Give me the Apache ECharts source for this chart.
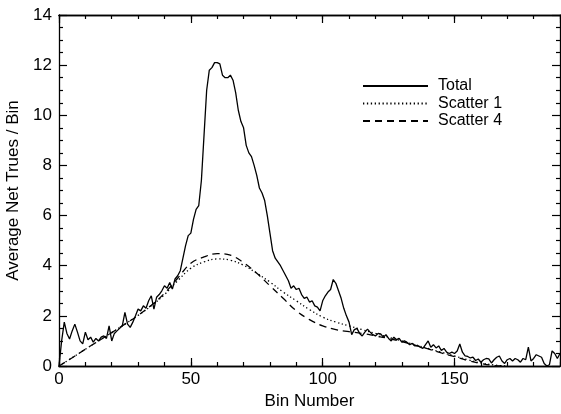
<!DOCTYPE html>
<html>
<head>
<meta charset="utf-8">
<script src="https://cdn.jsdelivr.net/npm/echarts@6/dist/echarts.min.js"></script>
<style>
html,body{margin:0;padding:0;background:#fff;}
#chart{width:561px;height:414px;}
</style>
</head>
<body>
<div id="chart"></div>
<script>
// Total: one value per bin, bins 0..190
const totalValues = [
  0, 1.0, 1.75, 1.3, 1.08, 1.4, 1.67, 1.35, 1.0, 0.88,
  1.35, 1.05, 1.15, 0.95, 1.1, 1.0, 1.15, 1.2, 1.1, 1.6,
  1.0, 1.3, 1.4, 1.5, 1.6, 2.14, 1.67, 1.54, 1.75, 2.0,
  2.27, 2.2, 2.4, 2.3, 2.6, 2.8, 2.27, 2.74, 2.85, 3.0,
  3.2, 3.1, 3.33, 3.07, 3.47, 3.6, 3.8, 4.3, 4.8, 5.2,
  5.3, 5.85, 6.25, 6.4, 7.4, 9.2, 11.0, 11.8, 11.9, 12.1,
  12.1, 12.05, 11.6, 11.5, 11.5, 11.6, 11.4, 10.9, 10.2, 9.75,
  9.5, 8.8, 8.5, 8.35, 8.0, 7.6, 7.1, 6.9, 6.6, 6.0,
  5.3, 4.6, 4.3, 4.15, 4.0, 3.8, 3.6, 3.4, 3.1, 3.2,
  3.05, 3.1, 2.85, 2.7, 2.75, 2.55, 2.6, 2.4, 2.35, 2.2,
  2.6, 2.8, 2.95, 3.05, 3.45, 3.3, 3.0, 2.7, 2.3, 2.0,
  1.75, 1.25, 1.45, 1.5, 1.3, 1.2, 1.35, 1.47, 1.35, 1.25,
  1.2, 1.3, 1.28, 1.15, 1.25, 1.1, 1.0, 1.15, 1.05, 1.1,
  0.95, 1.0, 0.94, 0.85, 0.9, 0.8, 0.81, 0.75, 0.7, 0.85,
  1.0, 0.75, 0.85, 0.72, 0.8, 0.62, 0.7, 0.55, 0.5, 0.55,
  0.5, 0.6, 0.88, 0.55, 0.4, 0.38, 0.32, 0.35, 0.22, 0.28,
  0.15, 0.25, 0.3, 0.28, 0.12, 0.25, 0.35, 0.4, 0.2, 0.1,
  0.25, 0.3, 0.2, 0.3, 0.25, 0.15, 0.3, 0.25, 0.75, 0.2,
  0.3, 0.45, 0.4, 0.35, 0.1, 0.0, 0.05, 0.6, 0.5, 0.3,
  0.5
];
// Scatter curves sampled every 5 bins
const scatterBins = [0,5,10,15,20,25,30,35,40,45,50,55,60,65,70,75,80,85,90,95,100,105,110,115,120,125,130,135,140,145,150,155,160,165,170];
const scatter1 = [0,0.33,0.67,1.0,1.33,1.67,2.02,2.4,2.85,3.4,3.9,4.15,4.27,4.22,4.02,3.7,3.35,2.95,2.6,2.25,1.95,1.75,1.6,1.45,1.3,1.15,1.0,0.85,0.7,0.55,0.4,0.25,0.12,0.04,0];
const scatter4 = [0,0.33,0.67,1.0,1.33,1.67,2.02,2.42,2.9,3.5,4.1,4.35,4.48,4.42,4.12,3.7,3.2,2.7,2.2,1.85,1.6,1.45,1.37,1.3,1.2,1.1,0.97,0.83,0.68,0.52,0.37,0.22,0.1,0.02,0];

const seriesNames = ['Total', 'Scatter 1', 'Scatter 4'];
const xTickLabels = [0, 50, 100, 150];
const yTickLabels = [0, 2, 4, 6, 8, 10, 12, 14];

const FONT = 'Liberation Sans, Arial, sans-serif';
const totalData = totalValues.map((v, i) => [i, v]);
const s1Data = scatterBins.map((b, i) => [b, scatter1[i]]);
const s4Data = scatterBins.map((b, i) => [b, scatter4[i]]);

const xMax = 190, yMax = 14;
function xAx(pos, interval, len, showLabel, extra) {
  return Object.assign({
    type: 'value', position: pos, min: 0, max: xMax, interval: interval,
    axisLine: { show: true, onZero: false, lineStyle: { color: '#000', width: 1.3 } },
    axisTick: { show: true, inside: true, length: len, lineStyle: { color: '#000', width: 1.2 } },
    axisLabel: { show: showLabel },
    splitLine: { show: false }
  }, extra || {});
}
function yAx(pos, showLabel, extra) {
  return Object.assign({
    type: 'value', position: pos, min: 0, max: yMax, interval: 2,
    axisLine: { show: true, onZero: false, lineStyle: { color: '#000', width: 1.3 } },
    axisTick: { show: true, inside: true, length: 8, lineStyle: { color: '#000', width: 1.2 } },
    minorTick: { show: true, splitNumber: 4, length: 4, lineStyle: { color: '#000', width: 1.2 } },
    axisLabel: { show: showLabel },
    splitLine: { show: false }
  }, extra || {});
}

const chart = echarts.init(document.getElementById('chart'), null, { renderer: 'canvas' });
chart.setOption({
  animation: false,
  backgroundColor: '#fff',
  grid: { left: 59, right: 1, top: 15, bottom: 48, containLabel: false, outerBoundsMode: 'none' },
  legend: {
    orient: 'vertical', left: 357, top: 73,
    itemWidth: 65, itemHeight: 14, itemGap: 1.5,
    data: seriesNames,
    itemStyle: { opacity: 0 },
    textStyle: { fontFamily: FONT, fontSize: 16, lineHeight: 14, color: '#000', padding: [0, 0, 0, 5] }
  },
  xAxis: [
    xAx('bottom', 10, 4, true, {
      name: 'Bin Number', nameLocation: 'middle', nameGap: 22,
      nameTextStyle: { fontFamily: FONT, fontSize: 17, color: '#000' },
      axisLabel: {
        show: true, margin: 5, fontFamily: FONT, fontSize: 17, color: '#000',
        formatter: v => xTickLabels.indexOf(v) >= 0 ? String(v) : ''
      }
    }),
    xAx('bottom', 50, 8, false),
    xAx('top', 10, 4, false),
    xAx('top', 50, 8, false)
  ],
  yAxis: [
    yAx('left', true, {
      name: 'Average Net Trues / Bin', nameLocation: 'middle', nameGap: 34,
      nameTextStyle: { fontFamily: FONT, fontSize: 17, color: '#000' },
      axisLabel: {
        show: true, margin: 7, fontFamily: FONT, fontSize: 17, color: '#000',
        formatter: v => yTickLabels.indexOf(v) >= 0 ? String(v) : ''
      }
    }),
    yAx('right', false)
  ],
  series: [
    {
      name: seriesNames[0], type: 'line', data: totalData, symbol: 'none',
      xAxisIndex: 0, yAxisIndex: 0,
      lineStyle: { color: '#000', width: 1.3 }, itemStyle: { color: '#000' }, z: 3
    },
    {
      name: seriesNames[1], type: 'line', data: s1Data, symbol: 'none', smooth: 0.4,
      xAxisIndex: 0, yAxisIndex: 0,
      lineStyle: { color: '#000', width: 1.3, type: [1.3, 2.6] }, itemStyle: { color: '#000' }
    },
    {
      name: seriesNames[2], type: 'line', data: s4Data, symbol: 'none', smooth: 0.4,
      xAxisIndex: 0, yAxisIndex: 0,
      lineStyle: { color: '#000', width: 1.3, type: [7, 5] }, itemStyle: { color: '#000' }
    }
  ]
});
</script>
</body>
</html>
